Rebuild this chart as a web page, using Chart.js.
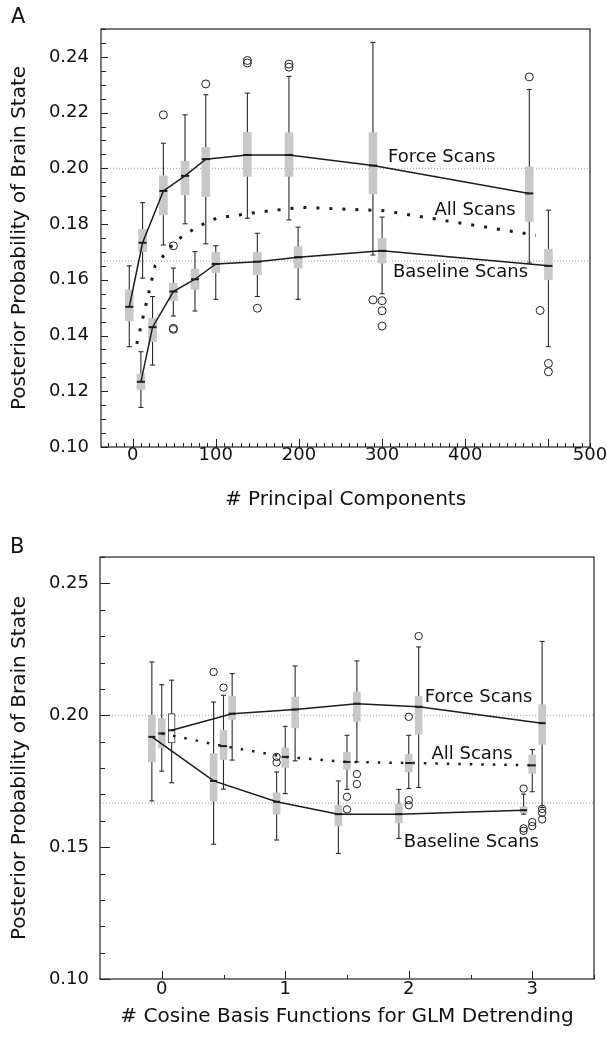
<!DOCTYPE html>
<html>
<head>
<meta charset="utf-8">
<script src="https://cdn.jsdelivr.net/npm/chart.js@4.4.1/dist/chart.umd.min.js"></script>
<style>
  html, body { margin: 0; padding: 0; background: #fff; }
  #wrap { position: relative; width: 607px; height: 1040px; }
  .panel { position: absolute; left: 0; width: 607px; height: 520px; }
</style>
</head>
<body>
<div id="wrap">
  <div class="panel" style="top:0"><canvas id="chartA"></canvas></div>
  <div class="panel" style="top:520px"><canvas id="chartB"></canvas></div>
</div>
<script>
// ---------- panel A : # principal components ----------
var pcForceX   = [-4, 12, 37, 63, 88, 138, 188, 289, 477];
var pcForceLo  = [0.136, 0.1606, 0.1725, 0.1801, 0.1729, 0.1821, 0.1815, 0.1689, 0.166];
var pcForceQ1  = [0.1453, 0.1701, 0.1833, 0.1905, 0.1899, 0.1971, 0.1971, 0.1908, 0.181];
var pcForceMed = [0.1503, 0.1733, 0.1919, 0.1973, 0.2033, 0.2048, 0.2048, 0.2010, 0.191];
var pcForceQ3  = [0.1564, 0.1781, 0.1973, 0.2025, 0.2075, 0.2129, 0.2128, 0.2128, 0.2005];
var pcForceHi  = [0.165, 0.1877, 0.2090, 0.2192, 0.2264, 0.2270, 0.2330, 0.2452, 0.2283];
var pcForceOut = [[], [], [0.2192], [], [0.2303], [0.2387, 0.2378], [0.2374, 0.2363], [0.1528], [0.2328]];

var pcBaseX   = [10, 24, 49, 75, 100, 150, 199, 300, 500];
var pcBaseLo  = [0.1142, 0.1294, 0.147, 0.1488, 0.153, 0.154, 0.153, 0.155, 0.136];
var pcBaseQ1  = [0.1207, 0.1378, 0.1525, 0.1566, 0.1626, 0.1618, 0.1642, 0.1660, 0.160];
var pcBaseMed = [0.1234, 0.1430, 0.1558, 0.1602, 0.1657, 0.1665, 0.1681, 0.1704, 0.165];
var pcBaseQ3  = [0.1262, 0.1462, 0.1588, 0.1638, 0.1698, 0.1698, 0.1719, 0.1749, 0.171];
var pcBaseHi  = [0.1342, 0.154, 0.1642, 0.1701, 0.1722, 0.1767, 0.1789, 0.1825, 0.185];
var pcBaseOut = [[], [], [0.1426, 0.1422, 0.1722], [], [], [0.1498], [], [0.1525, 0.1489, 0.1434], [0.130, 0.127]];

// stray circle between the last two boxes
var pcLooseX = [490];
var pcLooseY = [0.149];

var pcAllX   = [5, 27, 52, 77, 102, 152, 202, 302, 485];
var pcAllMed = [0.137, 0.165, 0.174, 0.1789, 0.1822, 0.1843, 0.186, 0.1848, 0.176];

var pcTickPos  = [0, 100, 200, 300, 400, 550];
var pcTickText = ['0', '100', '200', '300', '400', '500'];
var pcYTicks   = [0.10, 0.12, 0.14, 0.16, 0.18, 0.20, 0.22, 0.24];

// ---------- panel B : # cosine basis functions ----------
var cbForceX   = [0.08, 0.57, 1.08, 1.58, 2.08, 3.08];
var cbForceLo  = [0.1744, 0.183, 0.1827, 0.1823, 0.1726, 0.165];
var cbForceQ1  = [0.1895, 0.1984, 0.1952, 0.1977, 0.1928, 0.189];
var cbForceMed = [0.1943, 0.2006, 0.2022, 0.2044, 0.2032, 0.197];
var cbForceQ3  = [0.2006, 0.2072, 0.2069, 0.2088, 0.2072, 0.204];
var cbForceHi  = [0.2133, 0.2158, 0.2187, 0.2206, 0.2259, 0.228];
var cbForceOut = [[], [], [], [0.1777, 0.1739], [0.230], [0.1645, 0.163, 0.1605]];
var cbForceHollow = [true, false, false, false, false, false];

var cbAllX   = [0.0, 0.5, 1.0, 1.5, 2.0, 3.0];
var cbAllLo  = [0.1788, 0.172, 0.1703, 0.1719, 0.1722, 0.171];
var cbAllQ1  = [0.1876, 0.1832, 0.1802, 0.1795, 0.1785, 0.178];
var cbAllMed = [0.1931, 0.1883, 0.1842, 0.1823, 0.1819, 0.181];
var cbAllQ3  = [0.1988, 0.1943, 0.1876, 0.1859, 0.1852, 0.185];
var cbAllHi  = [0.2116, 0.2076, 0.1958, 0.1924, 0.1924, 0.187];
var cbAllOut = [[], [0.2105], [], [0.1691, 0.1643], [0.1994, 0.1678, 0.1659], [0.1595, 0.158]];

var cbBaseX   = [-0.08, 0.42, 0.93, 1.43, 1.92, 2.93];
var cbBaseLo  = [0.1675, 0.1511, 0.1527, 0.1476, 0.1533, 0.1625];
var cbBaseQ1  = [0.1823, 0.1675, 0.1625, 0.158, 0.1592, 0.163];
var cbBaseMed = [0.1918, 0.1751, 0.1672, 0.1625, 0.1625, 0.164];
var cbBaseQ3  = [0.200, 0.1855, 0.1706, 0.1659, 0.1663, 0.1653];
var cbBaseHi  = [0.2202, 0.205, 0.1785, 0.1751, 0.1719, 0.1701];
var cbBaseOut = [[], [0.2164], [0.1842, 0.1821], [], [], [0.1722, 0.1571, 0.1562]];

var cbTickPos  = [0, 1, 2, 3];
var cbTickText = ['0', '1', '2', '3'];
var cbYTicks   = [0.10, 0.15, 0.20, 0.25];

// chance levels (dotted guides)
var chanceLevels = [0.2, 0.1667];

Chart.defaults.font.family = '"DejaVu Sans", sans-serif';

var INK = '#1c1c1c';
var BOX = '#c8c8c8';

function ringSet(pts, r) {
  return { type: 'line', showLine: false, data: pts,
    pointStyle: 'circle', pointRadius: r, pointBorderWidth: 1, pointBorderColor: '#222',
    pointBackgroundColor: 'rgba(0,0,0,0)', order: 3 };
}

function boxSets(xs, lo, q1, med, q3, hi, out, st, hollow) {
  hollow = hollow || [];
  return [
    { type: 'line', data: xs.flatMap(function (x, i) { return [{x: x, y: lo[i]}, {x: x, y: hi[i]}, {x: x, y: null}]; }),
      borderColor: '#2a2a2a', borderWidth: 1.1, pointRadius: 0, spanGaps: false, order: 8 },
    { type: 'bar', data: xs.map(function (x, i) { return {x: x, y: [q1[i], q3[i]]}; }),
      backgroundColor: xs.map(function (x, i) { return hollow[i] ? '#ffffff' : BOX; }),
      borderColor: '#333', borderWidth: xs.map(function (x, i) { return hollow[i] ? 1 : 0; }),
      borderSkipped: false, barThickness: st.box, grouped: false, order: 7 },
    { type: 'line', showLine: false, data: xs.flatMap(function (x, i) { return [{x: x, y: lo[i]}, {x: x, y: hi[i]}]; }),
      pointStyle: 'line', pointRadius: st.cap, pointBorderWidth: 1.1, pointBorderColor: '#2a2a2a', order: 6 },
    { type: 'line', showLine: false, data: xs.map(function (x, i) { return {x: x, y: med[i]}; }),
      pointStyle: 'line', pointRadius: st.box / 2, pointBorderWidth: 2, pointBorderColor: INK, order: 5 },
    ringSet(xs.flatMap(function (x, i) { return out[i].map(function (v) { return {x: x, y: v}; }); }), st.ring)
  ];
}

function medLine(xs, med, dotted) {
  var d = { type: 'line', data: xs.map(function (x, i) { return {x: x, y: med[i]}; }),
    borderColor: INK, borderWidth: 1.5, pointRadius: 0, order: 4 };
  if (dotted) { d.borderWidth = dotted.w; d.borderDash = dotted.dash; d.borderCapStyle = 'butt'; }
  return d;
}

function guides(xMin, xMax) {
  return chanceLevels.map(function (v) {
    return { type: 'line', data: [{x: xMin, y: v}, {x: xMax, y: v}], borderColor: '#8c8c8c',
      borderWidth: 0.8, borderDash: [1, 2], pointRadius: 0, order: 9 };
  });
}

var panelDecor = {
  id: 'panelDecor',
  afterDraw: function (chart, args, o) {
    var ctx = chart.ctx, a = chart.chartArea, x = chart.scales.x, y = chart.scales.y;
    ctx.save();
    ctx.strokeStyle = '#222';
    ctx.lineWidth = 1.2;
    ctx.strokeRect(a.left, a.top, a.right - a.left, a.bottom - a.top);
    ctx.lineWidth = 1;
    ctx.beginPath();
    var i, v, p, len;
    for (i = 0; ; i++) {
      v = o.xFrom + i * o.xMinor;
      if (v > x.max) break;
      p = Math.round(x.getPixelForValue(v)) + 0.5;
      len = Math.abs(v / o.xMajor - Math.round(v / o.xMajor)) < 1e-6 ? o.xLong : o.xShort;
      ctx.moveTo(p, a.bottom); ctx.lineTo(p, a.bottom - len);
    }
    for (i = 0; ; i++) {
      v = o.yFrom + i * o.yMinor;
      if (v > y.max + 1e-9) break;
      p = Math.round(y.getPixelForValue(v)) + 0.5;
      len = Math.abs(v / o.yMajor - Math.round(v / o.yMajor)) < 1e-6 ? o.yLong : o.yShort;
      ctx.moveTo(a.left, p); ctx.lineTo(a.left + len, p);
    }
    ctx.stroke();
    ctx.fillStyle = '#111';
    ctx.textBaseline = 'middle';
    ctx.textAlign = 'left';
    ctx.font = '18px "DejaVu Sans"';
    o.notes.forEach(function (n) {
      ctx.fillText(n.text, x.getPixelForValue(n.x), y.getPixelForValue(n.y));
    });
    ctx.font = '21px "DejaVu Sans"';
    ctx.fillText(o.letter, o.letterX, o.letterY);
    ctx.restore();
  }
};

function makeChart(id, c) {
  return new Chart(document.getElementById(id), {
    type: 'line',
    data: { datasets: c.datasets },
    options: {
      responsive: true,
      maintainAspectRatio: false,
      animation: false,
      events: [],
      layout: { padding: c.pad },
      plugins: { legend: { display: false }, tooltip: { enabled: false }, panelDecor: c.decor },
      scales: {
        x: {
          type: 'linear', min: c.xMin, max: c.xMax, offset: false,
          grid: { display: false, drawTicks: false, offset: false }, border: { display: false },
          afterBuildTicks: function (s) { s.ticks = c.xTickPos.map(function (v) { return {value: v}; }); },
          afterFit: function (s) { s.height = c.xH; s.paddingLeft = 0; s.paddingRight = 0; },
          ticks: { padding: c.xPad, autoSkip: false, maxRotation: 0, color: '#111', font: { size: 18 },
            callback: function (v, i) { return c.xTickText[i]; } },
          title: { display: true, text: c.xTitle, color: '#111', font: { size: 20 }, padding: { top: 0, bottom: c.xTitlePad } }
        },
        y: {
          type: 'linear', min: 0.10, max: c.yMax,
          grid: { display: false, drawTicks: false }, border: { display: false },
          afterBuildTicks: function (s) { s.ticks = c.yTicks.map(function (v) { return {value: v}; }); },
          afterFit: function (s) { s.width = c.yW; s.paddingTop = 0; s.paddingBottom = 0; },
          ticks: { padding: c.yPad, color: '#111', font: { size: 18 },
            callback: function (v) { return v.toFixed(2); } },
          title: { display: true, text: 'Posterior Probability of Brain State', color: '#111', font: { size: 20 },
            padding: { top: 8, bottom: 0 } }
        }
      }
    },
    plugins: [panelDecor]
  });
}

var pcMin = -38, pcMax = 550;
makeChart('chartA', {
  datasets: [].concat(
    guides(pcMin, pcMax),
    boxSets(pcForceX, pcForceLo, pcForceQ1, pcForceMed, pcForceQ3, pcForceHi, pcForceOut, {box: 8, cap: 2.5, ring: 4}),
    boxSets(pcBaseX, pcBaseLo, pcBaseQ1, pcBaseMed, pcBaseQ3, pcBaseHi, pcBaseOut, {box: 8, cap: 2.5, ring: 4}),
    [ringSet(pcLooseX.map(function (x, i) { return {x: x, y: pcLooseY[i]}; }), 4)],
    [medLine(pcForceX, pcForceMed), medLine(pcBaseX, pcBaseMed), medLine(pcAllX, pcAllMed, {w: 3, dash: [3, 10]})]
  ),
  pad: { left: 0, top: 29, right: 17, bottom: 0 },
  xMin: pcMin, xMax: pcMax, xTickPos: pcTickPos, xTickText: pcTickText, xH: 73, xPad: -2,
  xTitle: '# Principal Components', xTitlePad: 8,
  yMax: 0.25, yTicks: pcYTicks, yW: 101, yPad: 12,
  decor: {
    xFrom: -30, xMinor: 10, xMajor: 100, xShort: 4, xLong: 8,
    yFrom: 0.10, yMinor: 0.005, yMajor: 0.02, yShort: 5, yLong: 7,
    notes: [
      {text: 'Force Scans', x: 307, y: 0.204},
      {text: 'All Scans', x: 363, y: 0.1848},
      {text: 'Baseline Scans', x: 313, y: 0.1627}
    ],
    letter: 'A', letterX: 11, letterY: 18
  }
});

var cbMin = -0.5, cbMax = 3.5;
makeChart('chartB', {
  datasets: [].concat(
    guides(cbMin, cbMax),
    boxSets(cbForceX, cbForceLo, cbForceQ1, cbForceMed, cbForceQ3, cbForceHi, cbForceOut, {box: 7, cap: 2.5, ring: 3.7}, cbForceHollow),
    boxSets(cbAllX, cbAllLo, cbAllQ1, cbAllMed, cbAllQ3, cbAllHi, cbAllOut, {box: 7, cap: 2.5, ring: 3.7}),
    boxSets(cbBaseX, cbBaseLo, cbBaseQ1, cbBaseMed, cbBaseQ3, cbBaseHi, cbBaseOut, {box: 7, cap: 2.5, ring: 3.7}),
    [medLine(cbForceX, cbForceMed), medLine(cbBaseX, cbBaseMed), medLine(cbAllX, cbAllMed, {w: 2.5, dash: [2.5, 9]})]
  ),
  pad: { left: 0, top: 37, right: 13, bottom: 0 },
  xMin: cbMin, xMax: cbMax, xTickPos: cbTickPos, xTickText: cbTickText, xH: 61, xPad: 0,
  xTitle: '# Cosine Basis Functions for GLM Detrending', xTitlePad: 11,
  yMax: 0.26, yTicks: cbYTicks, yW: 100, yPad: 11,
  decor: {
    xFrom: 0, xMinor: 0.5, xMajor: 1, xShort: 4, xLong: 8,
    yFrom: 0.10, yMinor: 0.01, yMajor: 0.05, yShort: 5, yLong: 10,
    notes: [
      {text: 'Force Scans', x: 2.13, y: 0.2067},
      {text: 'All Scans', x: 2.184, y: 0.1852},
      {text: 'Baseline Scans', x: 1.96, y: 0.1518}
    ],
    letter: 'B', letterX: 10, letterY: 28
  }
});
</script>
</body>
</html>
